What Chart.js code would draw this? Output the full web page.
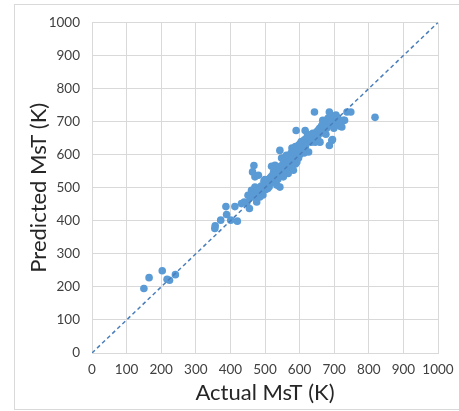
<!DOCTYPE html>
<html>
<head>
<meta charset="utf-8">
<script src="https://cdn.jsdelivr.net/npm/chart.js@4/dist/chart.umd.min.js"></script>
<style>
  html, body { margin: 0; padding: 0; background: #fff; }
  #wrap { position: relative; width: 459px; height: 411px; }
</style>
</head>
<body>
<div id="wrap"><canvas id="chart" width="459" height="411"></canvas></div>
<script>
// actual vs predicted MsT (K)
const actualMsT = [
  150, 165, 203, 217, 224, 241,
  355, 356, 372, 387, 389, 401, 413, 420, 432, 440, 447, 451, 455, 457,
  461, 464, 468, 471, 476, 471, 465, 478, 481, 485, 489, 493, 497, 500,
  502, 505, 508, 512, 515, 519, 519, 524, 529, 534, 537, 540, 543, 543,
  546, 548, 550, 553, 556, 558, 560, 562, 565, 567, 570, 572, 574, 576,
  578, 580, 582, 584, 586, 588, 590, 590, 592, 594, 596, 598, 600, 602,
  605, 607, 610, 612, 614, 616, 618, 620, 622, 626, 628, 630, 632, 635,
  638, 640, 643, 645, 647, 650, 652, 655, 658, 659, 660, 663, 665, 667,
  670, 672, 675, 678, 680, 682, 686, 686, 688, 690, 693, 695, 698, 700,
  703, 707, 710, 717, 722, 726, 730, 737, 748, 818,
  525, 530, 535, 545, 552, 555, 563, 566, 568, 575, 579, 583, 585, 595,
  600, 603, 606, 611, 617, 623, 629, 634, 642, 648, 654, 662, 668, 674,
  679, 684, 692, 696, 699, 705, 690, 676, 655, 613, 597, 588, 577, 557,
  538, 527, 517, 508, 494, 484, 474
];
const predictedMsT = [
  195, 228, 249, 223, 220, 237,
  377, 385, 402, 443, 419, 402, 443, 399, 452, 457, 452, 477, 437, 470,
  492, 548, 567, 533, 457, 502, 480, 490, 538, 472, 505, 488, 520, 525,
  495, 512, 520, 503, 530, 565, 535, 542, 568, 508, 526, 548, 613, 502,
  560, 590, 555, 533, 576, 585, 568, 598, 560, 543, 590, 600, 580, 606,
  620, 595, 553, 610, 600, 625, 673, 615, 578, 620, 605, 630, 615, 625,
  640, 610, 630, 620, 645, 673, 635, 650, 640, 608, 655, 640, 660, 650,
  665, 645, 729, 638, 660, 670, 655, 675, 680, 638, 665, 685, 690, 704,
  675, 690, 700, 680, 695, 710, 628, 729, 700, 719, 643, 646, 700, 690,
  705, 695, 712, 686, 684, 704, 704, 729, 729, 713,
  548, 550, 555, 565, 572, 590, 585, 595, 575, 592, 605, 590, 618, 612,
  600, 635, 622, 640, 625, 660, 648, 638, 660, 650, 665, 675, 668, 685,
  700, 690, 705, 712, 680, 720, 690, 662, 640, 605, 590, 572, 568, 548,
  540, 520, 515, 498, 478, 492, 470
];
const idealLine = [0, 1000];
const axisTicks = [0, 100, 200, 300, 400, 500, 600, 700, 800, 900, 1000];

const points = actualMsT.map((a, i) => ({ x: a, y: predictedMsT[i] }));

// light frame around the whole chart, like the exported office chart
const framePlugin = {
  id: 'frame',
  beforeDraw(chart) {
    const ctx = chart.ctx;
    ctx.save();
    ctx.strokeStyle = '#d9d9d9';
    ctx.lineWidth = 1;
    ctx.strokeRect(14.5, 4.5, 470, 405);
    ctx.restore();
  }
};

const tickFont = { family: 'Lato', size: 13.5 };

const ctx = document.getElementById('chart').getContext('2d');
new Chart(ctx, {
  type: 'scatter',
  data: {
    datasets: [
      {
        label: 'ideal',
        data: idealLine.map(v => ({ x: v, y: v })),
        showLine: true,
        borderColor: '#4a7ebb',
        borderWidth: 1.5,
        borderDash: [4, 3],
        pointRadius: 0,
        order: 0
      },
      {
        label: 'MsT',
        data: points,
        backgroundColor: '#5b9bd5',
        borderWidth: 0,
        pointRadius: 3.8,
        order: 1
      }
    ]
  },
  options: {
    responsive: false,
    animation: false,
    events: [],
    layout: { padding: { left: 0, top: 22.5, right: 21, bottom: 0 } },
    plugins: { legend: { display: false }, tooltip: { enabled: false } },
    scales: {
      x: {
        type: 'linear',
        min: 0, max: 1000,
        afterBuildTicks: s => { s.ticks = axisTicks.map(v => ({ value: v })); },
        afterFit: s => { s.height = 58; s.paddingLeft = 0; s.paddingRight = 0; },
        grid: { color: '#d9d9d9', drawTicks: false },
        border: { color: '#d9d9d9' },
        ticks: {
          padding: 9, color: '#404040', font: tickFont,
          autoSkip: false, maxRotation: 0, minRotation: 0,
          callback: v => String(v)
        },
        title: {
          display: true, text: 'Actual MsT (K)', color: '#262626',
          font: { family: 'Lato', size: 22 }, padding: { top: 0, bottom: 5 }
        }
      },
      y: {
        type: 'linear',
        min: 0, max: 1000,
        afterBuildTicks: s => { s.ticks = axisTicks.map(v => ({ value: v })); },
        afterFit: s => { s.width = 92; s.paddingTop = 0; s.paddingBottom = 0; },
        grid: { color: '#d9d9d9', drawTicks: false },
        border: { color: '#d9d9d9' },
        ticks: {
          padding: 12, color: '#404040', font: tickFont,
          autoSkip: false, callback: v => String(v)
        },
        title: {
          display: true, text: 'Predicted MsT (K)', color: '#262626',
          font: { family: 'Lato', size: 22 }, padding: { top: 26, bottom: 0 }
        }
      }
    }
  },
  plugins: [framePlugin]
});
</script>
</body>
</html>
